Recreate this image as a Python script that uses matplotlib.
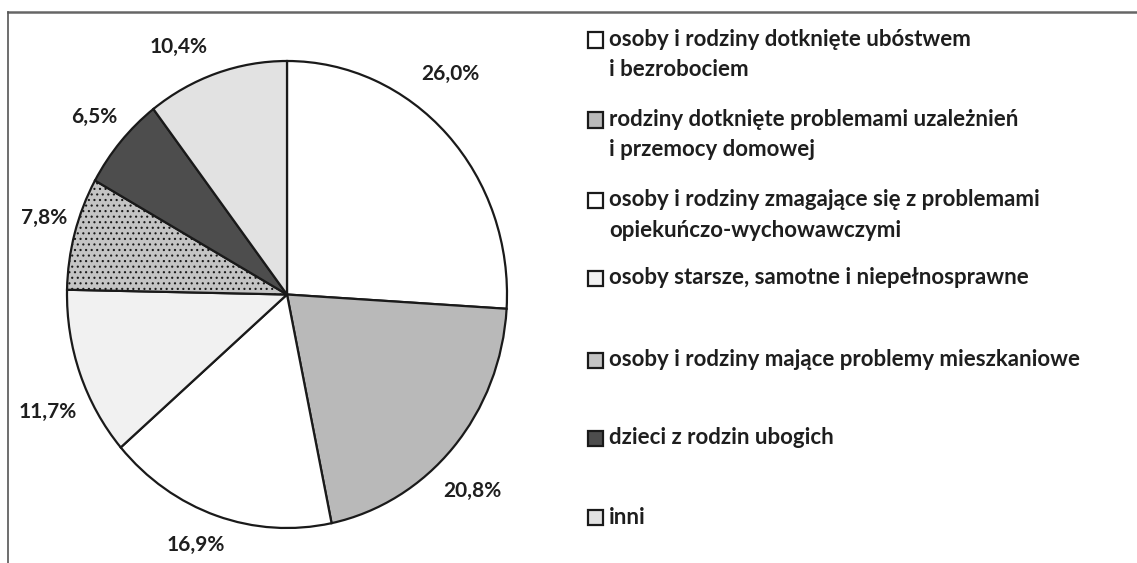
import matplotlib
matplotlib.use("Agg")
import numpy as np
import matplotlib.pyplot as plt
from matplotlib.lines import Line2D
from matplotlib.patches import Rectangle

# ---- data ----
categories = [
    "osoby i rodziny dotknięte ubóstwem\ni bezrobociem",
    "rodziny dotknięte problemami uzależnień\ni przemocy domowej",
    "osoby i rodziny zmagające się z problemami\nopiekuńczo-wychowawczymi",
    "osoby starsze, samotne i niepełnosprawne",
    "osoby i rodziny mające problemy mieszkaniowe",
    "dzieci z rodzin ubogich",
    "inni",
]
values = [26.0, 20.8, 16.9, 11.7, 7.8, 6.5, 10.4]
colors = ["#ffffff", "#b9b9b9", "#ffffff", "#f1f1f1", "#c4c4c4", "#4d4d4d", "#e2e2e2"]
hatches = [None, None, None, None, "...", None, None]
label_dist = [1.2, 1.19, 1.15, 1.2, 1.15, 1.16, 1.17]
label_shift_deg = [8.6, -4, -2.5, 5, -1.3, 0, 6.3]
legend_y_px = [40, 120, 200, 278, 360, 438, 517]  # first-line centre of each legend entry

W, H = 1137, 563
plt.rcParams["font.family"] = ["Lato", "DejaVu Sans"]
plt.rcParams["hatch.color"] = "#6a6a6a"
plt.rcParams["hatch.linewidth"] = 0.8
TXT = "#1e1e1e"

fig = plt.figure(figsize=(W / 100, H / 100), dpi=100)
fig.patch.set_facecolor("white")

# pie axes (slightly elliptical, as in the scan)
x0, x1, y0, y1 = 67, 507, 61, 528
ax = fig.add_axes([x0 / W, (H - y1) / H, (x1 - x0) / W, (y1 - y0) / H])
labels = [f"{v:.1f}%".replace(".", ",") for v in values]
wedges, texts = ax.pie(
    values, colors=colors, startangle=90, counterclock=False,
    labels=labels, labeldistance=1.2,
    wedgeprops=dict(edgecolor="#1a1a1a", linewidth=1.6),
    textprops=dict(fontsize=15, fontweight="bold", color=TXT),
)
for w, h, t, d, s in zip(wedges, hatches, texts, label_dist, label_shift_deg):
    if h:
        w.set_hatch(h)
    ang = np.deg2rad((w.theta1 + w.theta2) / 2 + s)
    t.set_position((d * np.cos(ang), d * np.sin(ang)))
    t.set_ha("center")
    t.set_va("center")
ax.set_aspect("auto")
ax.set_xlim(-1, 1)
ax.set_ylim(-1, 1)
ax.axis("off")

# frame lines
fig.add_artist(Line2D([8 / W, 1], [1 - 12 / H] * 2, transform=fig.transFigure,
                      color="#666666", lw=1.8))
fig.add_artist(Line2D([8 / W, 8 / W], [1 - 12 / H, 0], transform=fig.transFigure,
                      color="#555555", lw=1.2))

# legend
box = 15
line_gap = 30
for lab, col, ypx in zip(categories, colors, legend_y_px):
    fig.add_artist(Rectangle((588 / W, (H - ypx - box / 2) / H), box / W, box / H,
                             transform=fig.transFigure, facecolor=col,
                             edgecolor="#1a1a1a", lw=1.6))
    for i, part in enumerate(lab.split("\n")):
        fig.text(609 / W, (H - ypx - i * line_gap) / H, part, ha="left", va="center",
                 fontsize=16, fontweight="bold", color=TXT)

fig.savefig("out.png", dpi=100)
